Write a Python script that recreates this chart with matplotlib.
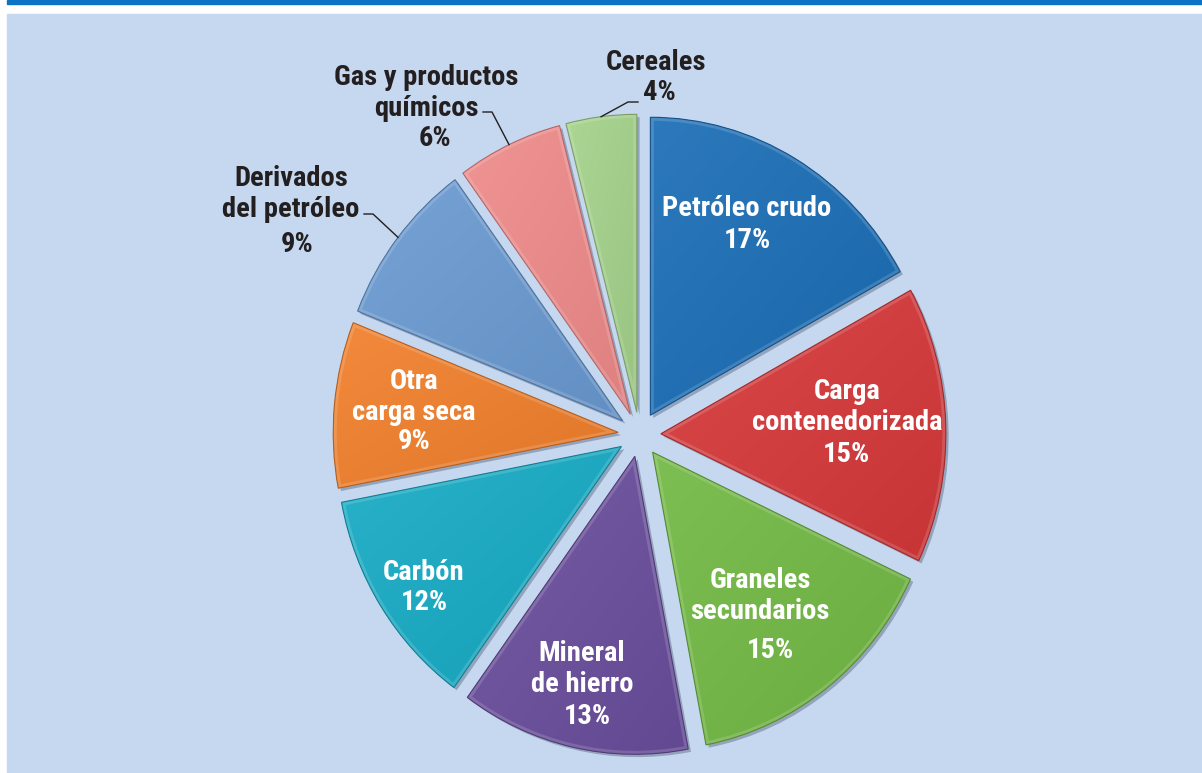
import numpy as np
import matplotlib
matplotlib.use("Agg")
import matplotlib.pyplot as plt
import matplotlib.colors as mcolors
import matplotlib.patheffects as pe
from matplotlib import font_manager
from matplotlib.patches import Rectangle, PathPatch

# share of seaborne trade by cargo type (%)
cargo = ["Petróleo crudo", "Carga\ncontenedorizada", "Graneles\nsecundarios",
         "Mineral\nde hierro", "Carbón", "Otra\ncarga seca",
         "Derivados\ndel petróleo", "Gas y productos\nquímicos", "Cereales"]
share = [17, 15, 15, 13, 12, 9, 9, 6, 4]
colors = ["#1a6db6", "#d6383a", "#72b944", "#6a4e9d", "#16abc5",
          "#f17f2b", "#6a9ad2", "#ef8a8a", "#a4d28a"]

# label placement in pixels (name centre, percent centre)
name_pos = [(747, 208), (847, 407), (760, 596), (582, 669), (424, 572),
            (414, 397), (291, 194), (426, 93), (656, 62)]
pct_pos = [(747, 241), (846, 455), (770, 650), (587, 716), (424, 602),
           (414, 441), (297, 244), (435, 138), (659, 93)]
outside = [False, False, False, False, False, False, True, True, True]
# leader lines: elbow points in pixels and angle where they touch the slice
leader_pts = {6: [(364, 214), (373, 214)],
              7: [(483, 112), (492, 112)],
              8: [(638, 102), (628, 102)]}
leader_ang = {6: 142.0, 7: 115.2, 8: 97.2}

W, H = 1202, 773
CX, CY = 639.5, 434.5      # pie centre (px from top-left)
RX, RY = 285, 298          # slice radius in px
LIM = 1.3
EXPL = 0.075

# pick a narrow bold face if one is installed
installed = font_manager.fontManager.ttflist
names = {f.name for f in installed}
family, stretch, fsize = "Roboto", "normal", 18
for cand in ["Roboto Condensed", "Liberation Sans Narrow", "Open Sans Condensed"]:
    if cand in names:
        family, fsize = cand, 20.5
        break
else:
    if any(f.name == "DejaVu Sans" and f.stretch == "condensed" for f in installed):
        family, stretch, fsize = "DejaVu Sans", "condensed", 18
plt.rcParams["font.family"] = [family, "DejaVu Sans"]

fig = plt.figure(figsize=(W / 100, H / 100), dpi=100)
fig.patch.set_facecolor("white")
fig.patches.append(Rectangle((7 / W, 0), 1 - 7 / W, (H - 14) / H,
                             transform=fig.transFigure, color="#c5d8ef", zorder=-5))
fig.patches.append(Rectangle((7 / W, (H - 3.5) / H), 1 - 7 / W, 3.5 / H,
                             transform=fig.transFigure, color="#0b74c4", zorder=-5))

ax = fig.add_axes([(CX - LIM * RX) / W, (H - CY - LIM * RY) / H,
                   2 * LIM * RX / W, 2 * LIM * RY / H])
ax.patch.set_visible(False)

wedges, _ = ax.pie(share, explode=[EXPL] * len(share), startangle=90,
                   counterclock=False, colors=colors, radius=1,
                   wedgeprops=dict(linewidth=0))


def shade(base, f):
    rgb = np.array(mcolors.to_rgb(base))
    if f >= 0:
        return rgb + (1 - rgb) * f
    return rgb * (1 + f)


for w, c in zip(wedges, colors):
    w.set_path_effects([pe.SimplePatchShadow(offset=(2, -2), shadow_rgbFace="#33415a",
                                             alpha=0.35), pe.Normal()])
    ext = w.get_path().get_extents()
    n = 80
    gx, gy = np.meshgrid(np.linspace(0, 1, n), np.linspace(0, 1, n))
    t = (gx + gy) / 2     # 0 at top-left, 1 at bottom-right
    img = np.zeros((n, n, 3))
    light, dark = shade(c, 0.08), shade(c, -0.07)
    for k in range(3):
        img[..., k] = light[k] * (1 - t) + dark[k] * t
    im = ax.imshow(img, extent=[ext.x0, ext.x1, ext.y0, ext.y1], origin="upper",
                   aspect="auto", zorder=2, interpolation="bilinear")
    im.set_clip_path(w)
    # bevel: soft light rim inside the slice and a darker outline
    rim = PathPatch(w.get_path(), facecolor="none", edgecolor="white",
                    lw=5, alpha=0.15, zorder=3)
    ax.add_patch(rim)
    rim.set_clip_path(w)
    ax.add_patch(PathPatch(w.get_path(), facecolor="none",
                           edgecolor=shade(c, -0.25), lw=0.8, zorder=3))

ax.set_xlim(-LIM, LIM)
ax.set_ylim(-LIM, LIM)
ax.set_aspect("auto")
ax.axis("off")


def to_fig(p):
    return p[0] / W, 1 - p[1] / H


def to_data(p):
    return (p[0] - CX) / RX, (CY - p[1]) / RY


for i, (name, v) in enumerate(zip(cargo, share)):
    col = "#231f20" if outside[i] else "white"
    x, y = to_fig(name_pos[i])
    fig.text(x, y, name, ha="center", va="center", color=col, fontsize=fsize,
             fontweight="bold", fontstretch=stretch, linespacing=1.22)
    x, y = to_fig(pct_pos[i])
    fig.text(x, y, f"{v}%", ha="center", va="center", color=col, fontsize=fsize,
             fontweight="bold", fontstretch=stretch)

# leader lines for the small slices
for i, pts in leader_pts.items():
    w = wedges[i]
    mid = np.deg2rad((w.theta1 + w.theta2) / 2)
    a = np.deg2rad(leader_ang[i])
    ex = EXPL * np.cos(mid) + np.cos(a)
    ey = EXPL * np.sin(mid) + np.sin(a)
    xs = [to_data(p)[0] for p in pts] + [ex]
    ys = [to_data(p)[1] for p in pts] + [ey]
    ax.plot(xs, ys, color="#231f20", lw=1.0, zorder=4, clip_on=False)

fig.savefig("out.png", dpi=100)
